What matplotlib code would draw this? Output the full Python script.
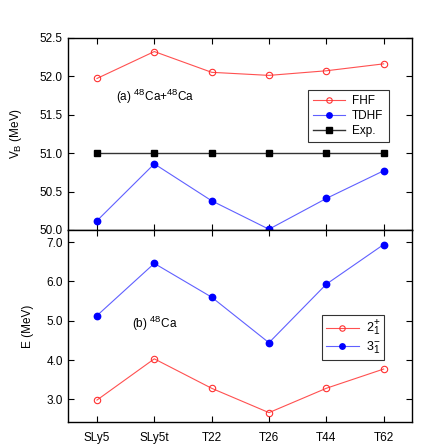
import matplotlib
matplotlib.use("Agg")
import matplotlib.pyplot as plt
try:
    import matplotlib._mathtext as _mt
    _mt.SHRINK_FACTOR = 0.8
except Exception:
    pass

plt.rcParams['font.family'] = ['Liberation Sans', 'DejaVu Sans']
plt.rcParams['mathtext.fontset'] = 'custom'
plt.rcParams['mathtext.rm'] = 'Liberation Sans'

forces = ["SLy5", "SLy5t", "T22", "T26", "T44", "T62"]
fhf = [51.97, 52.32, 52.05, 52.01, 52.07, 52.16]
tdhf = [50.12, 50.86, 50.38, 50.01, 50.41, 50.77]
exp = [51.0, 51.0, 51.0, 51.0, 51.0, 51.0]
e2plus = [2.98, 4.03, 3.28, 2.66, 3.28, 3.77]
e3minus = [5.13, 6.46, 5.60, 4.44, 5.93, 6.94]

W, H = 436, 447
fig = plt.figure(figsize=(W/100, H/100), dpi=100)
L, R = 68.3/W, 412.3/W
ax1 = fig.add_axes([L, 1-230/H, R-L, (230-37.7)/H])
ax2 = fig.add_axes([L, 1-422.3/H, R-L, (422.3-230)/H])

x = list(range(len(forces)))
red = '#ff3030'
ms = 4.6
ax1.plot(x, fhf, color='#ff5050', lw=0.8, marker='o', ms=ms, mfc='none', mec=red, mew=0.8, label='FHF')
ax1.plot(x, tdhf, color='#6060ff', lw=0.8, marker='o', ms=ms, mfc='#0000ff', mec='#0000ff', label='TDHF')
ax1.plot(x, exp, color='#333333', lw=1.0, marker='s', ms=4.3, mfc='black', mec='black', label='Exp.')
ax1.set_ylim(50.0, 52.5)
ax1.set_yticks([50.0, 50.5, 51.0, 51.5, 52.0, 52.5])
ax1.set_yticklabels(['50.0', '50.5', '51.0', '51.5', '52.0', '52.5'])
ax1.set_ylabel(r'V$_\mathregular{B}$ (MeV)', fontsize=8.5)
ax1.text(0.14, 0.67, r'(a) $^{\mathregular{48}}$Ca+$^{\mathregular{48}}$Ca', transform=ax1.transAxes, fontsize=8.5)
leg1 = ax1.legend(loc='upper left', bbox_to_anchor=((301.7-68.3)/344, 1-(84-37.7)/192.3), fontsize=8.5,
                  frameon=True, fancybox=False, edgecolor='black', handlelength=2.7, borderpad=0.45,
                  labelspacing=0.25, handletextpad=0.6, markerscale=0.85)
leg1.get_frame().set_linewidth(0.8)

ax2.plot(x, e2plus, color='#ff5050', lw=0.8, marker='o', ms=ms, mfc='none', mec=red, mew=0.8,
         label=r'2$_\mathregular{1}^\mathregular{+}$')
ax2.plot(x, e3minus, color='#6060ff', lw=0.8, marker='o', ms=ms, mfc='#0000ff', mec='#0000ff',
         label=r'3$_\mathregular{1}^\mathregular{-}$')
ax2.set_ylim(2.414, 7.31)
ax2.set_yticks([3.0, 4.0, 5.0, 6.0, 7.0])
ax2.set_yticklabels(['3.0', '4.0', '5.0', '6.0', '7.0'])
ax2.set_ylabel('E (MeV)', fontsize=8.5)
ax2.text(0.185, 0.49, r'(b) $^{\mathregular{48}}$Ca', transform=ax2.transAxes, fontsize=8.5)
leg2 = ax2.legend(loc='upper left', bbox_to_anchor=((316-68.3)/344, 1-(309-230)/192.3), fontsize=9,
                  frameon=True, fancybox=False, edgecolor='black', handlelength=2.6, borderpad=0.3,
                  labelspacing=0.1, handletextpad=0.6, markerscale=0.85)
leg2.get_frame().set_linewidth(0.8)

for ax in (ax1, ax2):
    ax.set_xlim(-0.5, 5.5)
    ax.set_xticks(x)
    ax.tick_params(direction='in', top=True, right=True, length=4, width=0.8, labelsize=8.5, pad=4)
    ax.tick_params(axis='x', pad=7)
    for s in ax.spines.values():
        s.set_linewidth(1.0)
ax1.set_xticklabels([])
ax2.set_xticklabels(forces)
ax1.yaxis.set_label_coords(-0.128, 0.5)
ax2.yaxis.set_label_coords(-0.100, 0.5)

fig.savefig('out.png', dpi=100)
